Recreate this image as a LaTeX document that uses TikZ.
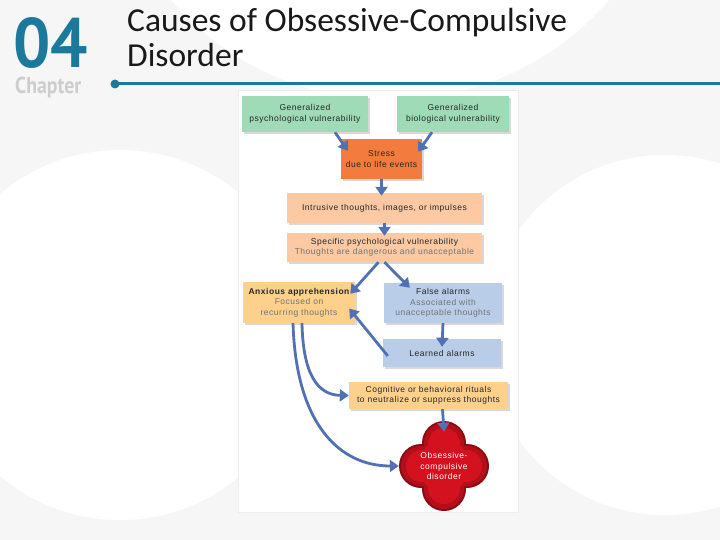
\documentclass[tikz,border=0pt]{standalone}
\usepackage{fontspec}
\setmainfont{Liberation Sans}
\newfontfamily\boxfont{Liberation Sans}[LetterSpace=6]
\newfontfamily\titlefont{Carlito}
\newfontfamily\chapfont{PT Sans}
\usetikzlibrary{arrows.meta, positioning, shadows}

\definecolor{chapteal}{HTML}{1B7A9C}
\definecolor{chapgray}{HTML}{CDCDCD}
\definecolor{bggray}{HTML}{F6F6F6}
\definecolor{vulngreen}{HTML}{9EDBB6}
\definecolor{stressorange}{HTML}{F47B3E}
\definecolor{peach}{HTML}{FCC9A3}
\definecolor{apricot}{HTML}{FDD18C}
\definecolor{alarmblue}{HTML}{B9CDE8}
\definecolor{arrowblue}{HTML}{5270B4}
\definecolor{ocdred}{HTML}{D3111F}

\begin{document}
\begin{tikzpicture}[
  x=1pt, y=-1pt,
  font=\boxfont\fontsize{8.5}{10.5}\selectfont,
  every node/.style={align=center},
  %% --- styles ---
  card/.style={
    fill=#1, inner sep=2pt, text=black!85,
    drop shadow={shadow xshift=2pt, shadow yshift=-2pt, opacity=0.3}
  },
  flow/.style={-{Triangle[width=12pt, length=9pt]}, line width=2.8pt, draw=arrowblue},
  headline/.style={anchor=base west, inner sep=0pt, text=black!90,
    font=\titlefont\fontsize{33.5}{35}\selectfont}
]
  \useasboundingbox (0,0) rectangle (720,540);

  %% --- backdrop ---
  \fill[bggray] (0,0) rectangle (720,540);
  \fill[white] (390,-190) circle (290);
  \fill[white] (120,335) circle (185);
  \fill[white] (665,335) circle (180);
  \fill[white, draw=black!7] (238,90) rectangle (518,512);

  %% --- chapter header ---
  \node[anchor=base west, inner sep=0pt, text depth=0pt, text=chapteal,
    font=\chapfont\bfseries\fontsize{70}{70}\selectfont] (chapnum) at (13,68) {\scalebox{0.94}[1]{04}};
  \node[anchor=base west, inner sep=0pt, text=chapgray,
    font=\chapfont\bfseries\fontsize{23}{23}\selectfont] (chapword) at (15,94) {\scalebox{0.86}[1]{Chapter}};
  \node[circle, fill=chapteal, inner sep=0pt, minimum size=9] (dot) at (115,84) {};
  \coordinate (ruleend) at (720,84);
  \draw[chapteal, line width=3pt] (dot.center) -- (ruleend);

  \node[headline] (title) at (127,32) {Causes of Obsessive-Compulsive};
  \node[headline] (titlecont) at (127,67) {Disorder};

  %% --- boxes ---
  \node[card=vulngreen, minimum width=126, minimum height=36] (psych) at (305,114) {Generalized\\psychological vulnerability};
  \node[card=vulngreen, minimum width=112, minimum height=36] (bio) at (453,114) {Generalized\\biological vulnerability};
  \node[card=stressorange, minimum width=81, minimum height=40] (stress) at (381.5,159) {Stress\\due to life events};
  \node[card=peach, minimum width=195, minimum height=30] (intrusive) at (384.5,208) {Intrusive thoughts, images, or impulses};
  \node[card=peach, minimum width=195, minimum height=29] (spec) at (384.5,247.5) {Specific psychological vulnerability\\{\color{black!55}Thoughts are dangerous and unacceptable}};
  \node[card=apricot, minimum width=112, minimum height=41] (anx) at (299,302.5) {\bfseries Anxious apprehension\\{\color{black!55}Focused on}\\{\color{black!55}recurring thoughts}};
  \node[card=alarmblue, minimum width=118, minimum height=40] (false) at (443,303) {False alarms\\{\color{black!55}Associated with}\\{\color{black!55}unacceptable thoughts}};
  \node[card=alarmblue, minimum width=118, minimum height=28] (learned) at (442,353) {Learned alarms};
  \node[card=apricot, minimum width=159, minimum height=27] (cog) at (428.5,395.5) {Cognitive or behavioral rituals\\to neutralize or suppress thoughts};

  %% --- OCD blob ---
  \coordinate (ocdc) at (444,466);
  \fill[ocdred!65!black] (ocdc) ++(0,-23) circle (22) (ocdc) ++(0,23) circle (22)
    (ocdc) ++(-23,0) circle (22) (ocdc) ++(23,0) circle (22) (ocdc) circle (30);
  \fill[ocdred!85!black] (ocdc) ++(0,-23) circle (20) (ocdc) ++(0,23) circle (20)
    (ocdc) ++(-23,0) circle (20) (ocdc) ++(23,0) circle (20) (ocdc) circle (28);
  \fill[ocdred] (ocdc) ++(0,-22) circle (16) (ocdc) ++(0,22) circle (16)
    (ocdc) ++(-22,0) circle (16) (ocdc) ++(22,0) circle (16) (ocdc) circle (26);
  \node[circle, minimum size=90, inner sep=0pt, text=white] (ocd) at (ocdc) {Obsessive-\\compulsive\\disorder};

  %% --- arrows ---
  \draw[flow] ([xshift=30pt]psych.south) -- ([xshift=7pt, yshift=-12pt]stress.north west);
  \draw[flow] ([xshift=-21pt]bio.south) -- ([xshift=-4pt, yshift=-13pt]stress.north east);
  \draw[flow] (stress.south) -- ([yshift=-3pt]stress.south |- intrusive.north);
  \draw[flow] (intrusive.south) -- ([yshift=-3pt]intrusive.south |- spec.north);
  \draw[flow] ([xshift=-6pt]spec.south) -- ([xshift=-5pt, yshift=-12pt]anx.north east);
  \draw[flow] (spec.south) -- ([xshift=26pt, yshift=-5pt]false.north west);
  \draw[flow] (false.south) -- ([yshift=-8pt]learned.north);
  \draw[flow] ([xshift=5pt, yshift=-3pt]learned.west) -- ([xshift=-6pt, yshift=-6pt]anx.east);
  \draw[flow] ([xshift=3pt]anx.south) .. controls (303,375) and (318,395) .. (cog.west);
  \draw[flow] ([xshift=-6pt]anx.south) .. controls (296,425) and (340,466) .. (ocd.west);
  \draw[flow] ([xshift=14pt]cog.south) -- ([yshift=-11pt]ocd.north);

\end{tikzpicture}
\end{document}
